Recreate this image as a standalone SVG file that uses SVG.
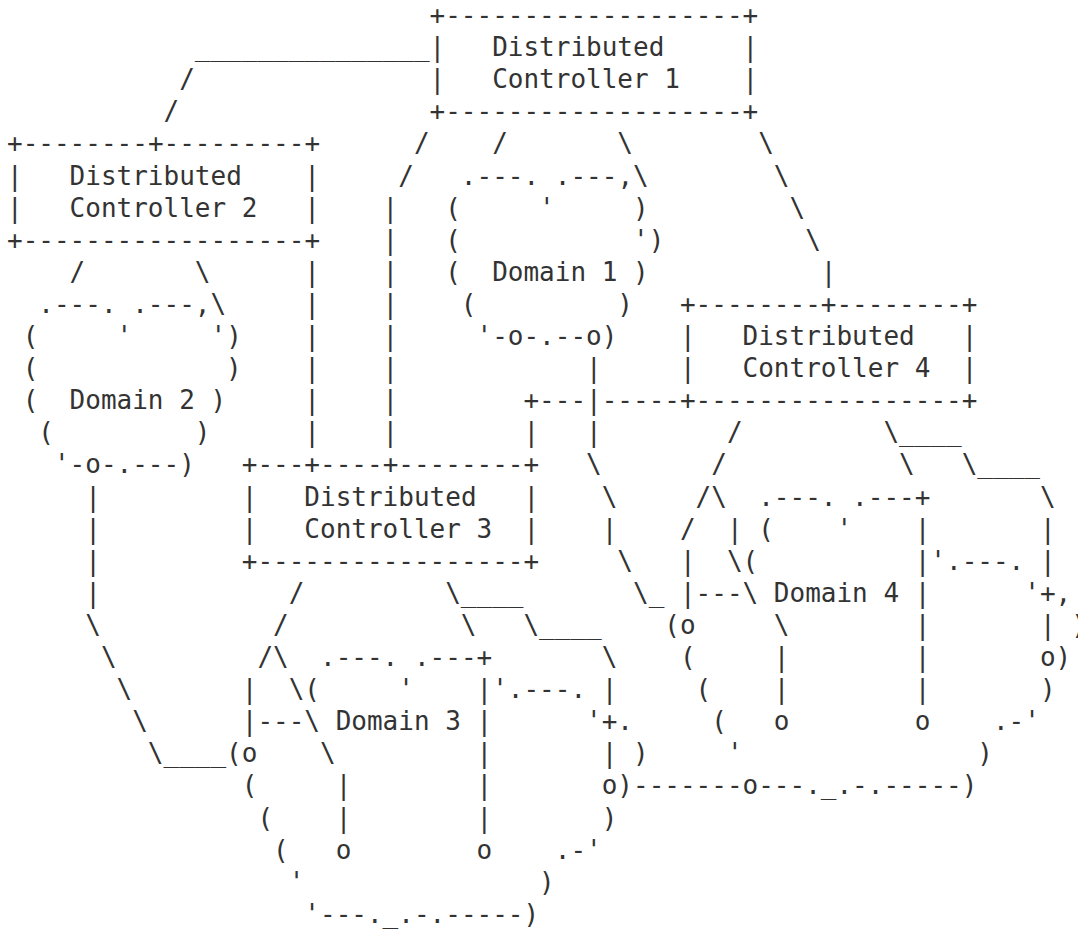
<svg xmlns="http://www.w3.org/2000/svg" width="1078" height="937" viewBox="0 0 1078 937" xml:space="preserve">
  <style>
    text { font-family: "DejaVu Sans Mono", "Liberation Mono", monospace; font-size: 26px; fill: #333; white-space: pre; }
  </style>
  <rect width="1078" height="937" fill="#ffffff"/>

  <!-- character grid: x = 7 + 15.65*col, baseline y = 24 + 32.1*row -->
  <g transform="translate(0,-1)">

  <g id="controller-1">
    <text x="429.55" y="25">+-------------------+</text>
    <text x="429.55" y="57.1">|</text><text x="492.15" y="57.1">Distributed</text><text x="742.55" y="57.1">|</text>
    <text x="429.55" y="89.2">|</text><text x="492.15" y="89.2">Controller 1</text><text x="742.55" y="89.2">|</text>
    <text x="429.55" y="121.3">+-------------------+</text>
  </g>

  <g id="controller-2">
    <text x="7" y="153.4">+--------+---------+</text>
    <text x="7" y="185.5">|</text><text x="69.6" y="185.5">Distributed</text><text x="304.35" y="185.5">|</text>
    <text x="7" y="217.6">|</text><text x="69.6" y="217.6">Controller 2</text><text x="304.35" y="217.6">|</text>
    <text x="7" y="249.7">+------------------+</text>
  </g>

  <g id="controller-3">
    <text x="241.75" y="474.4">+---+----+--------+</text>
    <text x="241.75" y="506.5">|</text><text x="304.35" y="506.5">Distributed</text><text x="523.45" y="506.5">|</text>
    <text x="241.75" y="538.6">|</text><text x="304.35" y="538.6">Controller 3</text><text x="523.45" y="538.6">|</text>
    <text x="241.75" y="570.7">+-----------------+</text>
  </g>

  <g id="controller-4">
    <text x="679.95" y="313.9">+--------+--------+</text>
    <text x="679.95" y="346">|</text><text x="742.55" y="346">Distributed</text><text x="961.65" y="346">|</text>
    <text x="679.95" y="378.1">|</text><text x="742.55" y="378.1">Controller 4</text><text x="961.65" y="378.1">|</text>
    <text x="679.95" y="410.2">+-----------------+</text>
  </g>

  <g id="domain-1">
    <text x="460.85" y="185.5">.---. .---,\</text>
    <text x="445.2" y="217.6">(</text><text x="539.1" y="217.6">'</text><text x="633" y="217.6">)</text>
    <text x="445.2" y="249.7">(</text><text x="633" y="249.7">')</text>
    <text x="445.2" y="281.8">(  Domain 1 )</text>
    <text x="460.85" y="313.9">(</text><text x="617.35" y="313.9">)</text>
    <text x="476.5" y="346">'-o-.--o)</text>
  </g>

  <g id="domain-2">
    <text x="38.3" y="313.9">.---. .---,\</text>
    <text x="22.65" y="346">(     '     ')</text>
    <text x="22.65" y="378.1">(</text><text x="226.1" y="378.1">)</text>
    <text x="22.65" y="410.2">(  Domain 2 )</text>
    <text x="38.3" y="442.3">(</text><text x="194.8" y="442.3">)</text>
    <text x="53.95" y="474.4">'-o-.---)</text>
  </g>

  <g id="domain-3">
    <text x="320" y="667">.---. .---+</text>
    <text x="304.35" y="699.1">(</text><text x="398.25" y="699.1">'</text><text x="476.5" y="699.1">|'.---.</text>
    <text x="335.65" y="731.2">Domain 3</text><text x="476.5" y="731.2">|</text><text x="586.05" y="731.2">'+.</text>
    <text x="226.1" y="763.3">(o</text><text x="476.5" y="763.3">|</text><text x="601.7" y="763.3">|</text><text x="633" y="763.3">)</text>
    <text x="241.75" y="795.4">(</text><text x="476.5" y="795.4">|</text><text x="601.7" y="795.4">o)</text>
    <text x="257.4" y="827.5">(</text><text x="476.5" y="827.5">|</text><text x="601.7" y="827.5">)</text>
    <text x="273.05" y="859.6">(</text><text x="335.65" y="859.6">o</text><text x="476.5" y="859.6">o</text><text x="554.75" y="859.6">.-'</text>
    <text x="288.7" y="891.7">'</text><text x="539.1" y="891.7">)</text>
    <text x="304.35" y="923.8">'---._.-.-----)</text>
  </g>

  <g id="domain-4">
    <text x="758.2" y="506.5">.---. .---+</text>
    <text x="758.2" y="538.6">(</text><text x="836.45" y="538.6">'</text><text x="914.7" y="538.6">|</text>
    <text x="742.55" y="570.7">(</text><text x="914.7" y="570.7">|'.---.</text>
    <text x="773.85" y="602.8">Domain 4</text><text x="914.7" y="602.8">|</text><text x="1024.25" y="602.8">'+,</text>
    <text x="664.3" y="634.9">(o</text><text x="914.7" y="634.9">|</text><text x="1071.2" y="634.9">)</text>
    <text x="679.95" y="667">(</text><text x="914.7" y="667">|</text><text x="1039.9" y="667">o)</text>
    <text x="695.6" y="699.1">(</text><text x="914.7" y="699.1">|</text><text x="1039.9" y="699.1">)</text>
    <text x="711.25" y="731.2">(</text><text x="773.85" y="731.2">o</text><text x="914.7" y="731.2">o</text><text x="992.95" y="731.2">.-'</text>
    <text x="726.9" y="763.3">'</text><text x="977.3" y="763.3">)</text>
    <text x="742.55" y="795.4">o---._.-.-----)</text>
  </g>

  <g id="connectors">
    <!-- controller 1 to controller 2 -->
    <text x="194.8" y="57.1">_______________</text>
    <text x="179.15" y="89.2">/</text>
    <text x="163.5" y="121.3">/</text>
    <!-- controller 1 downward links -->
    <text x="413.9" y="153.4">/</text><text x="492.15" y="153.4">/</text><text x="617.35" y="153.4">\</text><text x="758.2" y="153.4">\</text>
    <text x="398.25" y="185.5">/</text><text x="773.85" y="185.5">\</text>
    <text x="382.6" y="217.6">|</text><text x="789.5" y="217.6">\</text>
    <text x="382.6" y="249.7">|</text><text x="805.15" y="249.7">\</text>
    <text x="382.6" y="281.8">|</text><text x="820.8" y="281.8">|</text>
    <text x="382.6" y="313.9">|</text>
    <text x="382.6" y="346">|</text>
    <text x="382.6" y="378.1">|</text>
    <text x="382.6" y="410.2">|</text>
    <text x="382.6" y="442.3">|</text>
    <!-- controller 2 downward links -->
    <text x="69.6" y="281.8">/</text><text x="194.8" y="281.8">\</text><text x="304.35" y="281.8">|</text>
    <text x="304.35" y="313.9">|</text>
    <text x="304.35" y="346">|</text>
    <text x="304.35" y="378.1">|</text>
    <text x="304.35" y="410.2">|</text>
    <text x="304.35" y="442.3">|</text>
    <!-- domain 1 port to controller 3 / controller 4 -->
    <text x="586.05" y="378.1">|</text>
    <text x="523.45" y="410.2">+---|-----</text>
    <text x="523.45" y="442.3">|</text><text x="586.05" y="442.3">|</text>
    <text x="586.05" y="474.4">\</text>
    <text x="601.7" y="506.5">\</text>
    <text x="601.7" y="538.6">|</text>
    <text x="617.35" y="570.7">\</text>
    <text x="633" y="602.8">\_</text>
    <!-- controller 4 downward links -->
    <text x="726.9" y="442.3">/</text><text x="883.4" y="442.3">\____</text>
    <text x="711.25" y="474.4">/</text><text x="899.05" y="474.4">\</text><text x="961.65" y="474.4">\____</text>
    <text x="695.6" y="506.5">/\</text><text x="1039.9" y="506.5">\</text>
    <text x="679.95" y="538.6">/</text><text x="726.9" y="538.6">|</text><text x="1039.9" y="538.6">|</text>
    <text x="679.95" y="570.7">|</text><text x="726.9" y="570.7">\</text><text x="1039.9" y="570.7">|</text>
    <text x="679.95" y="602.8">|---\</text>
    <text x="773.85" y="634.9">\</text><text x="1039.9" y="634.9">|</text>
    <text x="773.85" y="667">|</text>
    <text x="773.85" y="699.1">|</text>
    <!-- domain 2 port to domain 3 -->
    <text x="85.25" y="506.5">|</text>
    <text x="85.25" y="538.6">|</text>
    <text x="85.25" y="570.7">|</text>
    <text x="85.25" y="602.8">|</text>
    <text x="85.25" y="634.9">\</text>
    <text x="100.9" y="667">\</text>
    <text x="116.55" y="699.1">\</text>
    <text x="132.2" y="731.2">\</text>
    <text x="147.85" y="763.3">\____</text>
    <!-- controller 3 downward links -->
    <text x="288.7" y="602.8">/</text><text x="445.2" y="602.8">\____</text>
    <text x="273.05" y="634.9">/</text><text x="460.85" y="634.9">\</text><text x="523.45" y="634.9">\____</text>
    <text x="257.4" y="667">/\</text><text x="601.7" y="667">\</text>
    <text x="241.75" y="699.1">|</text><text x="288.7" y="699.1">\</text><text x="601.7" y="699.1">|</text>
    <text x="241.75" y="731.2">|---\</text>
    <text x="320" y="763.3">\</text>
    <text x="335.65" y="795.4">|</text>
    <text x="335.65" y="827.5">|</text>
    <!-- domain 3 to domain 4 -->
    <text x="633" y="795.4">-------</text>
  </g>

  </g>
</svg>
